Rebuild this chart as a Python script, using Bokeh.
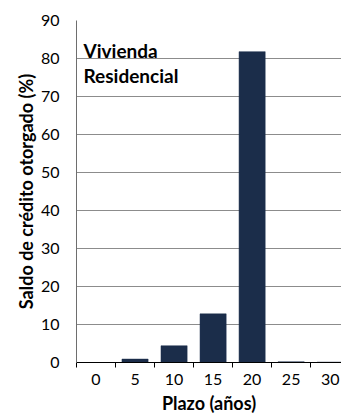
from bokeh.plotting import figure
from bokeh.models import FixedTicker, Range1d, Label, ColumnDataSource
from bokeh.embed import file_html
from bokeh.resources import INLINE

# Plazo categories (years) and share of credit balance (%)
plazos = ["0", "5", "10", "15", "20", "25", "30"]
saldo = [0.0, 0.9, 4.4, 12.8, 81.8, 0.2, 0.1]
y_ticks = [0, 10, 20, 30, 40, 50, 60, 70, 80, 90]
titulo = ["Vivienda", "Residencial"]
x_titulo = "Plazo (años)"
y_titulo = "Saldo de crédito otorgado (%)"

FONT = "Lato"
BAR = "#1b2d4a"

centers = [i + 0.5 for i in range(len(plazos))]
src = ColumnDataSource(dict(x=centers, top=saldo))

p = figure(width=341, height=416, output_backend="svg", toolbar_location=None,
           x_range=Range1d(0, 6.79), y_range=Range1d(0, 90),
           min_border_left=76, min_border_right=0, min_border_top=20,
           min_border_bottom=54)
p.outline_line_color = None
p.background_fill_color = "white"
p.border_fill_color = "white"

p.vbar(x="x", top="top", width=0.67, source=src, fill_color=BAR,
       line_color=BAR, line_width=0.5)

# x axis: labels at category centres, tick marks on category boundaries
xa = p.xaxis[0]
xa.ticker = FixedTicker(ticks=centers, minor_ticks=list(range(len(plazos))))
xa.major_label_overrides = {c: lab for c, lab in zip(centers, plazos)}
xa.major_tick_line_color = None
xa.major_tick_in = 0
xa.major_tick_out = 5
xa.minor_tick_in = 0
xa.minor_tick_out = 5
xa.minor_tick_line_color = "black"
xa.axis_line_color = "black"
xa.axis_line_width = 1.2
xa.major_label_standoff = 6
xa.major_label_text_font = FONT
xa.major_label_text_font_size = "16px"
xa.major_label_text_color = "#000000"
xa.major_label_text_line_height = 1.0
xa.axis_label = x_titulo
xa.axis_label_text_font = FONT
xa.axis_label_text_font_style = "bold"
xa.axis_label_text_font_size = "18px"
xa.axis_label_text_color = "#000000"
xa.axis_label_text_line_height = 1.0
xa.axis_label_standoff = 4

ya = p.yaxis[0]
ya.ticker = FixedTicker(ticks=y_ticks)
ya.major_tick_line_color = None
ya.major_tick_in = 0
ya.major_tick_out = 0
ya.minor_tick_line_color = None
ya.axis_line_color = "#6e6e6e"
ya.major_label_standoff = 17
ya.major_label_text_font = FONT
ya.major_label_text_font_size = "16px"
ya.major_label_text_color = "#000000"
ya.axis_label = y_titulo
ya.axis_label_text_font = FONT
ya.axis_label_text_font_style = "bold"
ya.axis_label_text_font_size = "18px"
ya.axis_label_text_color = "#000000"
ya.axis_label_standoff = 1

p.xgrid.grid_line_color = None
p.ygrid.ticker = FixedTicker(ticks=y_ticks[1:])
p.ygrid.grid_line_color = "#8c8c8c"
p.ygrid.grid_line_width = 1

# two-line title inside the plot area, placed in data coordinates
for i, line in enumerate(titulo):
    p.add_layout(Label(x=0.18, y=82.1 - i * 6.6, text=line, text_font=FONT,
                       text_font_style="bold", text_font_size="19px",
                       text_color="#000000", text_baseline="alphabetic"))

open("out.html", "w").write(file_html(p, INLINE))
